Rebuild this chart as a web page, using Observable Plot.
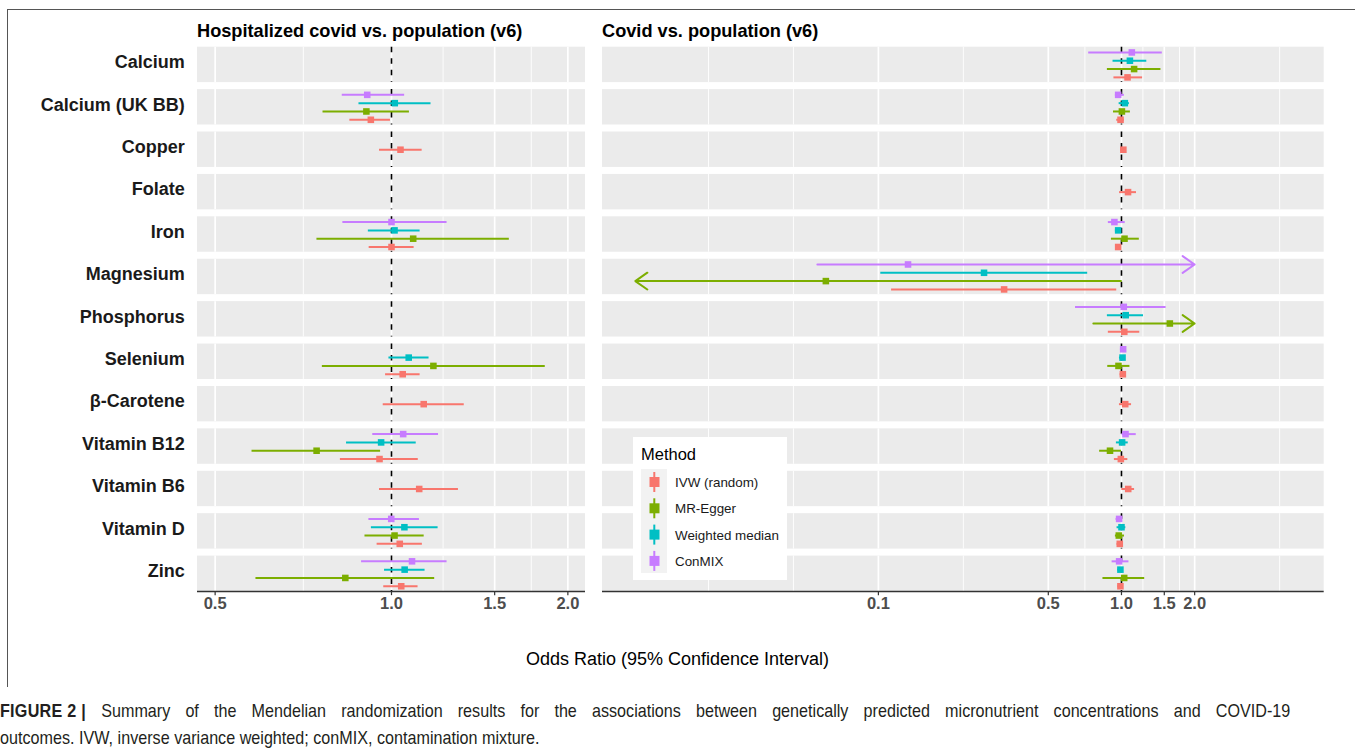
<!DOCTYPE html>
<html><head><meta charset="utf-8">
<script src="https://cdn.jsdelivr.net/npm/d3@7"></script>
<script src="https://cdn.jsdelivr.net/npm/@observablehq/plot@0.6"></script>
<style>
body{margin:0;background:#fff;font-family:"Liberation Sans",Arial,sans-serif;}
#root{position:relative;width:1355px;height:752px;overflow:hidden;background:#fff;}
.abs{position:absolute;}
.ftitle{font-weight:bold;font-size:18.2px;line-height:18px;color:#000;white-space:nowrap;}
#border{left:7px;top:9px;width:1360px;height:677px;border-left:1.5px solid #555;border-top:1.5px solid #555;}
#xtitle{left:0;width:1355px;text-align:center;font-size:18px;line-height:18px;top:650px;color:#000;}
.cap{left:0;font-size:19px;line-height:19px;color:#231F20;white-space:nowrap;transform-origin:0 0;transform:scaleX(0.85);}
#cap1{width:1518px;white-space:normal;text-align:justify;text-align-last:justify;}
#cap1 b{display:inline-block;letter-spacing:0.3px;}
g[aria-label="fy-axis tick label"]{fill:#1A1A1A;font-weight:bold;font-size:18px;}
</style></head><body><div id="root">
<div id="border" class="abs"></div>
</div>
<script>
const nutrients = ["Calcium","Calcium (UK BB)","Copper","Folate","Iron","Magnesium","Phosphorus","Selenium","β-Carotene","Vitamin B12","Vitamin B6","Vitamin D","Zinc"];
const methods = ["IVW (random)","MR-Egger","Weighted median","ConMIX"];
const methodColors = ["#F8766D","#7CAE00","#00BFC4","#C77CFF"];
const panelTitles = ["Hospitalized covid vs. population (v6)","Covid vs. population (v6)"];

// Hospitalized covid vs population
const hospNutrient = ["Calcium (UK BB)","Calcium (UK BB)","Calcium (UK BB)","Calcium (UK BB)","Copper","Iron","Iron","Iron","Iron","Selenium","Selenium","Selenium","β-Carotene","Vitamin B12","Vitamin B12","Vitamin B12","Vitamin B12","Vitamin B6","Vitamin D","Vitamin D","Vitamin D","Vitamin D","Zinc","Zinc","Zinc","Zinc"];
const hospMethod = ["ConMIX","Weighted median","MR-Egger","IVW (random)","IVW (random)","ConMIX","Weighted median","MR-Egger","IVW (random)","Weighted median","MR-Egger","IVW (random)","IVW (random)","ConMIX","Weighted median","MR-Egger","IVW (random)","IVW (random)","ConMIX","Weighted median","MR-Egger","IVW (random)","ConMIX","Weighted median","MR-Egger","IVW (random)"];
const hospOR = [0.909,1.013,0.906,0.922,1.036,1.000,1.012,1.089,1.000,1.070,1.179,1.045,1.135,1.047,0.960,0.745,0.954,1.115,0.999,1.052,1.012,1.033,1.084,1.053,0.834,1.039];
const hospLo = [0.824,0.880,0.764,0.849,0.954,0.826,0.913,0.746,0.916,0.990,0.762,0.977,0.968,0.929,0.838,0.578,0.818,0.954,0.915,0.924,0.901,0.945,0.889,0.973,0.587,0.970];
const hospHi = [1.053,1.168,1.073,0.996,1.128,1.244,1.119,1.589,1.093,1.159,1.830,1.119,1.331,1.203,1.102,0.958,1.111,1.301,1.116,1.201,1.137,1.129,1.244,1.141,1.185,1.110];

// Covid vs population
const covNutrient = ["Calcium","Calcium","Calcium","Calcium","Calcium (UK BB)","Calcium (UK BB)","Calcium (UK BB)","Calcium (UK BB)","Copper","Folate","Iron","Iron","Iron","Iron","Magnesium","Magnesium","Magnesium","Magnesium","Phosphorus","Phosphorus","Phosphorus","Phosphorus","Selenium","Selenium","Selenium","Selenium","β-Carotene","Vitamin B12","Vitamin B12","Vitamin B12","Vitamin B12","Vitamin B6","Vitamin D","Vitamin D","Vitamin D","Vitamin D","Zinc","Zinc","Zinc","Zinc"];
const covMethod = ["ConMIX","Weighted median","MR-Egger","IVW (random)","ConMIX","Weighted median","MR-Egger","IVW (random)","IVW (random)","IVW (random)","ConMIX","Weighted median","MR-Egger","IVW (random)","ConMIX","Weighted median","MR-Egger","IVW (random)","ConMIX","Weighted median","MR-Egger","IVW (random)","ConMIX","Weighted median","MR-Egger","IVW (random)","IVW (random)","ConMIX","Weighted median","MR-Egger","IVW (random)","IVW (random)","ConMIX","Weighted median","MR-Egger","IVW (random)","ConMIX","Weighted median","MR-Egger","IVW (random)"];
const covOR = [1.103,1.083,1.127,1.059,0.969,1.032,1.004,0.991,1.018,1.064,0.935,0.969,1.029,0.969,0.1324,0.272,0.0608,0.329,1.022,1.041,1.581,1.027,1.016,1.010,0.972,1.013,1.036,1.039,1.006,0.897,0.994,1.066,0.978,1.000,0.975,0.984,0.978,0.990,1.026,0.990];
const covLo = [0.733,0.923,0.875,0.931,0.944,0.978,0.927,0.956,0.991,0.982,0.883,0.944,0.909,0.950,0.0561,0.1023,0.004,0.1133,0.647,0.875,0.766,0.883,0.990,0.981,0.878,0.987,0.981,1.006,0.953,0.813,0.935,1.003,0.950,0.959,0.944,0.959,0.915,0.966,0.839,0.966];
const covHi = [1.472,1.271,1.453,1.221,1.027,1.078,1.088,1.027,1.045,1.153,1.036,0.997,1.184,0.997,2.6,0.726,0.995,0.956,1.526,1.232,3.2,1.189,1.042,1.039,1.083,1.039,1.100,1.150,1.066,1.000,1.062,1.132,1.010,1.042,1.029,1.010,1.073,1.016,1.246,1.013];

const hospLimits = [0.5, 2];
const covLimits = [0.01, 5];
const covClip = [0.01, 2];
const hospTicks = [0.5, 1, 1.5, 2];
const covTicks = [0.1, 0.5, 1, 1.5, 2];

const Y_DOMAIN = [-0.63, 3.63];

function expandLog([a, b]) {
  const la = Math.log(a), lb = Math.log(b), e = 0.05 * (lb - la);
  return [Math.exp(la - e), Math.exp(lb + e)];
}
// ggplot-style minor breaks (midpoints in log space, extended by first spacing)
function minorBreaks(ticks, domain) {
  const b = ticks.map(Math.log);
  const bd = b[1] - b[0];
  const ext = [b[0] - bd, ...b, b[b.length - 1] + bd];
  const out = [];
  for (let i = 0; i < ext.length - 1; i++) { out.push(ext[i]); out.push((ext[i] + ext[i + 1]) / 2); }
  out.push(ext[ext.length - 1]);
  const [d0, d1] = domain.map(Math.log);
  return out.filter(v => v > d0 && v < d1 && !b.some(t => Math.abs(t - v) < 1e-9)).map(Math.exp);
}

function makeRows(nut, meth, or, lo, hi, clip) {
  const rows = nut.map((n, i) => ({nutrient: n, method: meth[i], or: or[i], lo: lo[i], hi: hi[i]}));
  const counts = d3.rollup(rows, v => v.length, d => d.nutrient);
  for (const d of rows) {
    d.slot = counts.get(d.nutrient) === 1 ? 1.5 : methods.indexOf(d.method);
    d.clo = clip ? Math.max(d.lo, clip[0]) : d.lo;
    d.chi = clip ? Math.min(d.hi, clip[1]) : d.hi;
    d.cutLo = !!clip && d.lo < clip[0];
    d.cutHi = !!clip && d.hi > clip[1];
  }
  return rows;
}

const cross = (vals) => nutrients.flatMap(n => vals.map(v => ({nutrient: n, v})));
const fmt = d3.format(".1f");

function panel(rows, {limits, ticks, width, height, marginLeft, marginRight, showFy}) {
  const domain = expandLog(limits);
  const minors = minorBreaks(ticks, domain);
  const plain = rows.filter(d => !d.cutLo && !d.cutHi);
  const hiArrows = rows.filter(d => d.cutHi);
  const loArrows = rows.filter(d => d.cutLo);
  const bg = nutrients.map(n => ({nutrient: n}));
  const last = nutrients[nutrients.length - 1];
  const axisRows = ticks.map(v => ({nutrient: last, v}));
  return Plot.plot({
    width, height, marginLeft, marginRight, marginTop: 46.7, marginBottom: 39,
    style: {fontFamily: "'Liberation Sans', Arial, sans-serif", fontSize: "16px", overflow: "visible", background: "transparent"},
    x: {type: "log", domain, label: null, axis: null},
    y: {domain: Y_DOMAIN, axis: null},
    fy: {domain: nutrients, paddingInner: 0.165, paddingOuter: 0, round: false, label: null,
         axis: showFy ? "left" : null, tickSize: 0, tickPadding: 12.7},
    color: {domain: methods, range: methodColors},
    marks: [
      Plot.barX(bg, {fy: "nutrient", x1: () => domain[0], x2: () => domain[1], fill: "#EBEBEB"}),
      Plot.ruleX(cross(minors), {fy: "nutrient", x: "v", stroke: "white", strokeWidth: 0.9}),
      Plot.ruleX(cross(ticks), {fy: "nutrient", x: "v", stroke: "white", strokeWidth: 1.7}),
      Plot.ruleX(cross([1]), {fy: "nutrient", x: "v", stroke: "#000", strokeWidth: 1.6, strokeDasharray: "5.5,6"}),
      Plot.ruleY(plain, {fy: "nutrient", y: "slot", x1: "clo", x2: "chi", stroke: "method", strokeWidth: 2}),
      Plot.arrow(hiArrows, {fy: "nutrient", x1: "clo", x2: "chi", y1: "slot", y2: "slot", stroke: "method", strokeWidth: 2, headLength: 11, headAngle: 70}),
      Plot.arrow(loArrows, {fy: "nutrient", x1: "chi", x2: "clo", y1: "slot", y2: "slot", stroke: "method", strokeWidth: 2, headLength: 11, headAngle: 70}),
      Plot.dot(rows, {fy: "nutrient", x: "or", y: "slot", fill: "method", symbol: "square", r: 3.7}),
      // bottom axis: line, ticks and labels in the last facet
      Plot.ruleY([{nutrient: last}], {fy: "nutrient", y: () => Y_DOMAIN[0], stroke: "#333", strokeWidth: 1.6}),
      Plot.ruleX(axisRows, {fy: "nutrient", x: "v", y1: () => Y_DOMAIN[0], y2: () => Y_DOMAIN[0] - 0.5, stroke: "#333", strokeWidth: 1.2}),
      Plot.text(axisRows, {fy: "nutrient", x: "v", text: d => fmt(d.v), frameAnchor: "bottom", dy: 17, fill: "#4D4D4D", fontSize: 16.5, fontWeight: "bold"})
    ]
  });
}

const root = document.getElementById("root");
const hospRows = makeRows(hospNutrient, hospMethod, hospOR, hospLo, hospHi, null);
const covRows = makeRows(covNutrient, covMethod, covOR, covLo, covHi, covClip);

const left = panel(hospRows, {limits: hospLimits, ticks: hospTicks, width: 590, height: 630, marginLeft: 197, marginRight: 5, showFy: true});
left.style.position = "absolute"; left.style.left = "0px"; left.style.top = "0px";
root.appendChild(left);
const right = panel(covRows, {limits: covLimits, ticks: covTicks, width: 765, height: 630, marginLeft: 12, marginRight: 31.3, showFy: false});
right.style.position = "absolute"; right.style.left = "590px"; right.style.top = "0px";
root.appendChild(right);
// nudge nutrient labels up slightly like the reference
d3.select(left).selectAll('g[aria-label="fy-axis tick label"]').each(function () {
  const t = this.getAttribute("transform") || "";
  this.setAttribute("transform", t + " translate(0,-2.5)");
});

// facet titles
[[197, panelTitles[0]], [602, panelTitles[1]]].forEach(([x, t]) => {
  const d = document.createElement("div");
  d.className = "abs ftitle"; d.style.left = x + "px"; d.style.top = "21.5px"; d.textContent = t;
  root.appendChild(d);
});

// x title
const xt = document.createElement("div");
xt.id = "xtitle"; xt.className = "abs"; xt.textContent = "Odds Ratio (95% Confidence Interval)";
root.appendChild(xt);

// legend
const lg = d3.select(root).append("svg").attr("class", "abs")
  .style("left", "633px").style("top", "437px").attr("width", 154).attr("height", 143);
lg.append("rect").attr("width", 154).attr("height", 143).attr("fill", "white");
lg.append("text").attr("x", 8).attr("y", 23).attr("font-size", 16.5).attr("font-family", "'Liberation Sans', Arial, sans-serif").attr("fill", "#000").text("Method");
lg.append("rect").attr("x", 8).attr("y", 32).attr("width", 26).attr("height", 104).attr("fill", "#F2F2F2");
const items = lg.selectAll("g.item").data(methods).join("g").attr("transform", (d, i) => `translate(0,${45 + i * 26.3})`);
items.append("line").attr("x1", 21.3).attr("x2", 21.3).attr("y1", -10).attr("y2", 10).attr("stroke", (d, i) => methodColors[i]).attr("stroke-width", 2);
items.append("rect").attr("x", 16.5).attr("y", -5).attr("width", 10).attr("height", 10).attr("fill", (d, i) => methodColors[i]);
items.append("text").attr("x", 42).attr("y", 5).attr("font-size", 13.4).attr("font-family", "'Liberation Sans', Arial, sans-serif").attr("fill", "#1A1A1A").text(d => d);

// caption
const c1 = document.createElement("div");
c1.className = "abs cap"; c1.id = "cap1"; c1.style.top = "701px";
c1.innerHTML = "<b>FIGURE 2 |</b> Summary of the Mendelian randomization results for the associations between genetically predicted micronutrient concentrations and COVID-19";
root.appendChild(c1);
const c2 = document.createElement("div");
c2.className = "abs cap"; c2.style.top = "728px";
c2.textContent = "outcomes. IVW, inverse variance weighted; conMIX, contamination mixture.";
root.appendChild(c2);
</script>
</body></html>
